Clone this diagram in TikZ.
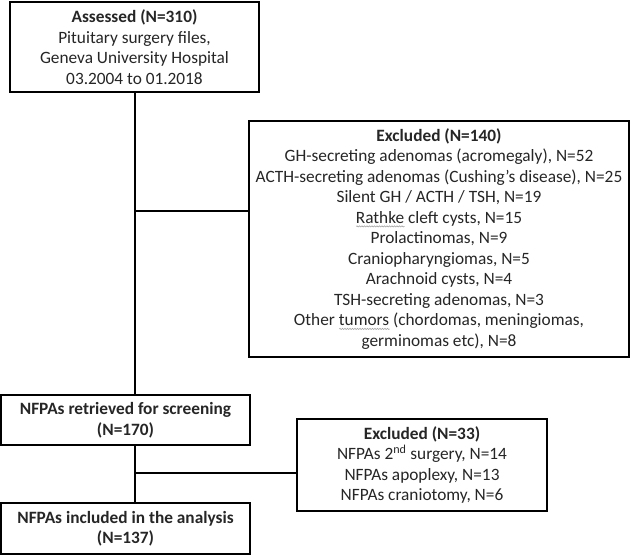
\documentclass[tikz,border=0pt]{standalone}
\usepackage{fontspec}
\setmainfont{Carlito}
\usepackage{tikz}
\usetikzlibrary{decorations.pathmorphing}
\newlength\spellwd
\newcommand\spellwave[1]{\settowidth\spellwd{#1}\rlap{\tikz[baseline=0pt, x=1cm, y=1cm]
	\draw[line width=0.6pt, draw=gray!70, decorate, decoration={snake, amplitude=0.6pt, segment length=2.5pt}] (0pt,-3pt) -- (\spellwd,-3pt);}#1}
\tikzstyle{flow}=[line width=2.5pt, draw=black, font=\fontsize{17.3}{20.5}\selectfont]
\tikzstyle{box}=[rectangle, draw, line width=2.5pt, fill=white, align=center, inner sep=2pt, text=black!85]
\tikzstyle{link}=[line width=2.5pt]

\begin{document}
\begin{tikzpicture}[flow, x=1pt, y=-1pt]
	\useasboundingbox (0,0) rectangle (631,555);
	\draw (134.5,47) node[box, minimum width=249pt, minimum height=90pt] (assessed)
		{\textbf{Assessed (N=310)}\\Pituitary surgery files,\\Geneva University Hospital\\03.2004 to 01.2018};
	\draw (439,239) node[box, minimum width=380pt, minimum height=236pt] (excl1)
		{\textbf{Excluded (N=140)}\\GH-secreting adenomas (acromegaly), N=52\\ACTH-secreting adenomas (Cushing’s disease), N=25\\Silent GH / ACTH / TSH, N=19\\\spellwave{Rathke} cleft cysts, N=15\\Prolactinomas, N=9\\Craniopharyngiomas, N=5\\Arachnoid cysts, N=4\\TSH-secreting adenomas, N=3\\Other \spellwave{tumors} (chordomas, meningiomas,\\germinomas etc), N=8};
	\draw (125.5,420) node[box, minimum width=249pt, minimum height=50pt] (retrieved)
		{\textbf{NFPAs retrieved for screening}\\\textbf{(N=170)}};
	\draw (422,465) node[box, minimum width=250pt, minimum height=92pt] (excl2)
		{\textbf{Excluded (N=33)}\\NFPAs 2\textsuperscript{nd} surgery, N=14\\NFPAs apoplexy, N=13\\NFPAs craniotomy, N=6};
	\draw (125.5,528.5) node[box, minimum width=249pt, minimum height=51pt] (included)
		{\textbf{NFPAs included in the analysis}\\\textbf{(N=137)}};
	\coordinate (split1) at (135,211);
	\coordinate (split2) at (135,473);
	\draw[link] (assessed.south -| split1) -- (retrieved.north -| split1);
	\draw[link] (split1) -- (split1 -| excl1.west);
	\draw[link] (retrieved.south -| split2) -- (included.north -| split2);
	\draw[link] (split2) -- (split2 -| excl2.west);
\end{tikzpicture}
\end{document}
